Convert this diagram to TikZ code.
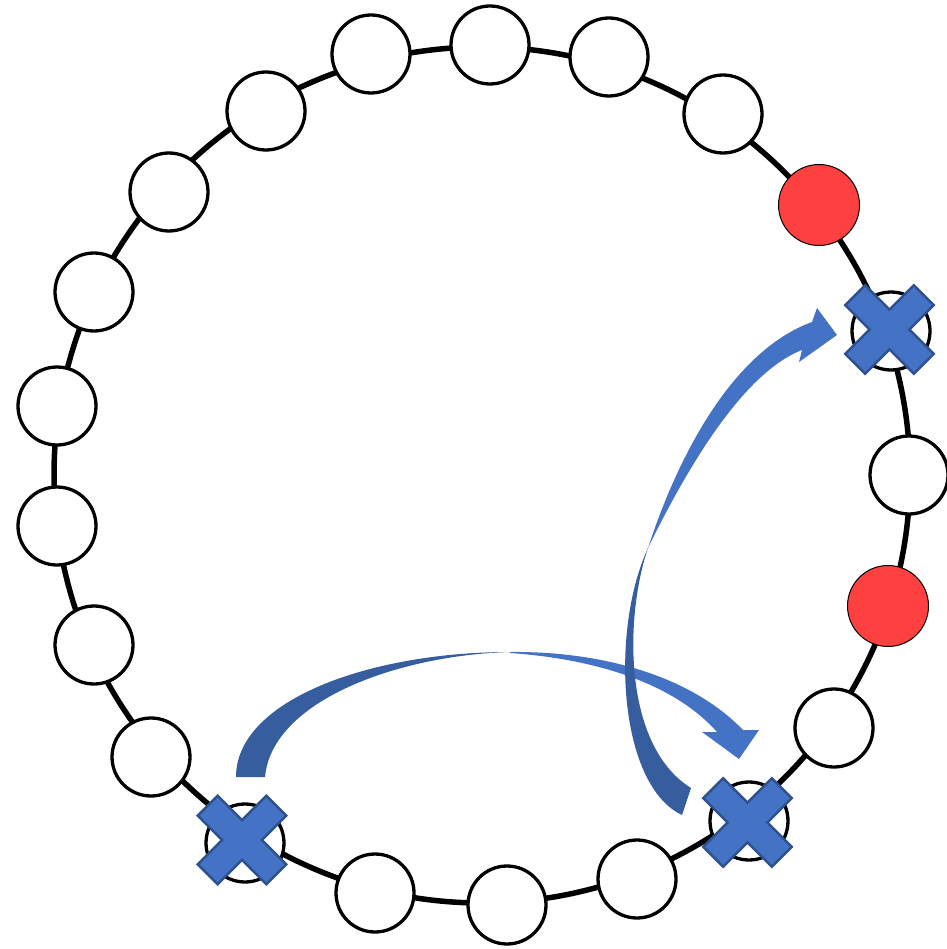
\documentclass[tikz,border=0pt]{standalone}

\definecolor{darkarrow}{RGB}{54,94,158}
\definecolor{lightarrow}{RGB}{68,114,196}
\definecolor{crossfill}{RGB}{68,114,196}
\definecolor{crossline}{RGB}{47,82,143}
\definecolor{hotred}{RGB}{255,64,64}

\tikzset{
  site/.style={circle, draw=black, line width=3.3pt, fill=white, minimum size=78pt, inner sep=0pt},
  hotsite/.style={circle, draw=black, line width=1pt, fill=hotred, minimum size=81pt, inner sep=0pt},
  crossmark/.pic={
    \filldraw[fill=crossfill, draw=crossline, line width=2.5pt, rotate=45]
      (14,14) -- (48.5,14) -- (48.5,-14) -- (14,-14) -- (14,-48.5) -- (-14,-48.5) -- (-14,-14)
      -- (-48.5,-14) -- (-48.5,14) -- (-14,14) -- (-14,48.5) -- (14,48.5) -- cycle;
  }
}

\begin{document}
\begin{tikzpicture}[x=1pt, y=-1pt]

\useasboundingbox (0,0) rectangle (946,949);

% ring
\pgfmathsetmacro{\ringX}{482}
\pgfmathsetmacro{\ringY}{475}
\pgfmathsetmacro{\ringR}{428}
\draw[line width=5.5pt] (\ringX,\ringY) circle[radius=\ringR];

% sites on the ring
\foreach \name/\x/\y/\kind in {b1/490/45/site, b2/609/57/site, b3/723/114/site, b4/819/205/hotsite,
  b5/891/331/site, b6/909/475/site, b7/888/606/hotsite, b8/834/728/site, b9/749/821/site,
  b10/637/879/site, b11/507/905/site, b12/375/893/site, b13/245/843/site, b14/151/757/site,
  b15/94/645/site, b16/57/526/site, b17/57/406/site, b18/94/292/site, b19/169/192/site,
  b20/266/111/site, b21/371/54/site}
\node[\kind] (\name) at (\x,\y) {};

% removed sites
\pic at ([shift={(-1.5,-1.5)}]b5) {crossmark};
\pic at ([shift={(-1.5,1.5)}]b9) {crossmark};
\pic at ([shift={(-3,-3)}]b13) {crossmark};

% jump b13 -> b9
\fill[darkarrow] (236,777) .. controls (236,700) and (370,652) .. (510,652)
  .. controls (400,655) and (272,700) .. (265,777) -- cycle;
\fill[lightarrow] (510,652) .. controls (600,651) and (690,675) .. (743,730)
  -- (759,730) -- (739,759) -- (702,732) -- (717,732)
  .. controls (680,690) and (610,660) .. (510,653) -- cycle;

% jump b9 -> b5
\fill[darkarrow] (682,815) .. controls (618,785) and (610,630) .. (648,548)
  .. controls (625,615) and (622,745) .. (691,788) -- cycle;
\fill[lightarrow] (648,548) .. controls (680,450) and (735,350) .. (812,322)
  -- (817,308) -- (837,335) -- (799,362) -- (802,350)
  .. controls (745,372) and (690,462) .. (648,548) -- cycle;

\end{tikzpicture}
\end{document}
